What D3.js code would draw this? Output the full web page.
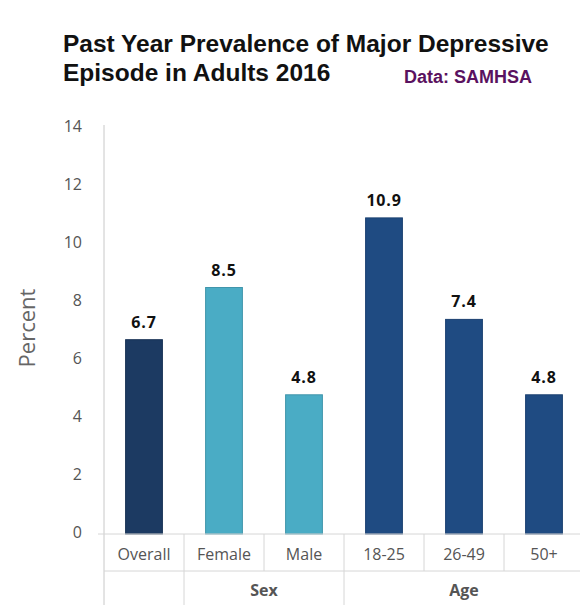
<!DOCTYPE html>
<html>
<head>
<meta charset="utf-8">
<script src="https://cdn.jsdelivr.net/npm/d3@7"></script>
<style>
  body { margin: 0; background: #fff; }
  svg { display: block; }
</style>
</head>
<body>
<script>
// data
var categories = ["Overall", "Female", "Male", "18-25", "26-49", "50+"];
var groupOf    = ["", "Sex", "Sex", "Age", "Age", "Age"];
var values     = [6.7, 8.5, 4.8, 10.9, 7.4, 4.8];
var barColors  = ["#1c3a62", "#4aacc5", "#4aacc5", "#1f4b82", "#1f4b82", "#1f4b82"];
var yTicks     = [0, 2, 4, 6, 8, 10, 12, 14];
var titleLines = ["Past Year Prevalence of Major Depressive", "Episode in Adults 2016"];
var sourceText = "Data: SAMHSA";

var W = 580, H = 605;
var plotLeft = 104, plotRight = 584, plotTop = 128, base = 534;
var row1 = 571;

var svg = d3.select("body").append("svg")
    .attr("width", W)
    .attr("height", H);

// scales
var x = d3.scaleBand().domain(categories).range([plotLeft, plotRight])
    .paddingInner(0.54).paddingOuter(0.27);
var cell = d3.scaleBand().domain(categories).range([plotLeft, plotRight]);
var y = d3.scaleLinear().domain([0, 14]).range([base, plotTop]);

// title
svg.append("g").selectAll("text")
    .data(titleLines)
    .enter().append("text")
        .attr("x", 63)
        .attr("y", function(d, i) { return 52 + i * 29; })
        .style("font-family", "'Liberation Sans', Arial, sans-serif")
        .style("font-weight", "bold")
        .style("font-size", "24.5px")
        .style("fill", "#111")
        .text(function(d) { return d; });

svg.append("text")
    .attr("x", 404)
    .attr("y", 83)
    .style("font-family", "'Liberation Sans', Arial, sans-serif")
    .style("font-weight", "bold")
    .style("font-size", "18px")
    .style("fill", "#5a1260")
    .text(sourceText);

// y axis
var yAxis = d3.axisLeft(y).tickValues(yTicks).tickSize(0).tickPadding(22);
var gy = svg.append("g")
    .attr("transform", "translate(" + plotLeft + ",0)")
    .call(yAxis);
gy.select(".domain").remove();
gy.selectAll("text")
    .attr("dy", "0.2em")
    .style("font-family", "'Open Sans', sans-serif")
    .style("font-size", "16px")
    .style("fill", "#555");

svg.append("line")
    .attr("x1", plotLeft).attr("x2", plotLeft)
    .attr("y1", y(14) - 3).attr("y2", H)
    .style("stroke", "#c8c8c8");

svg.append("text")
    .attr("transform", "translate(35,328) rotate(-90)")
    .style("text-anchor", "middle")
    .style("font-family", "'Open Sans', sans-serif")
    .style("font-size", "22px")
    .style("fill", "#666")
    .text("Percent");

// bars
svg.append("g").selectAll("rect")
    .data(values)
    .enter().append("rect")
        .attr("x", function(d, i) { return x(categories[i]); })
        .attr("y", function(d) { return y(d); })
        .attr("width", x.bandwidth())
        .attr("height", function(d) { return base - y(d); })
        .style("fill", function(d, i) { return barColors[i]; })
        .style("stroke", function(d, i) { return d3.color(barColors[i]).darker(0.4); })
        .style("stroke-width", 1);

svg.append("g").selectAll("text")
    .data(values)
    .enter().append("text")
        .attr("x", function(d, i) { return x(categories[i]) + x.bandwidth() / 2; })
        .attr("y", function(d) { return y(d) - 12; })
        .style("text-anchor", "middle")
        .style("font-family", "'Open Sans', sans-serif")
        .style("font-weight", "bold")
        .style("font-size", "16px")
        .style("letter-spacing", "0.8px")
        .style("fill", "#111")
        .text(function(d) { return d.toFixed(1); });

// category table below the bars
var grid = svg.append("g").style("stroke", "#d6d6d6").style("stroke-width", 1);
grid.append("line").attr("x1", plotLeft).attr("x2", W).attr("y1", base).attr("y2", base);
grid.append("line").attr("x1", plotLeft).attr("x2", W).attr("y1", row1).attr("y2", row1);
grid.append("line").attr("x1", plotLeft - 6).attr("x2", plotLeft).attr("y1", base).attr("y2", base);

grid.selectAll(".cellsep")
    .data(categories.slice(1))
    .enter().append("line")
        .attr("class", "cellsep")
        .attr("x1", function(d) { return cell(d); })
        .attr("x2", function(d) { return cell(d); })
        .attr("y1", base).attr("y2", row1);

svg.append("g").selectAll("text")
    .data(categories)
    .enter().append("text")
        .attr("x", function(d) { return cell(d) + cell.bandwidth() / 2; })
        .attr("y", 560)
        .style("text-anchor", "middle")
        .style("font-family", "'Open Sans', sans-serif")
        .style("font-size", "16px")
        .style("fill", "#555")
        .text(function(d) { return d; });

// group spans
var groups = [];
categories.forEach(function(c, i) {
    var g = groups[groups.length - 1];
    if (g && g.name === groupOf[i]) { g.last = c; }
    else { groups.push({name: groupOf[i], first: c, last: c}); }
});

grid.selectAll(".groupsep")
    .data(groups.slice(1))
    .enter().append("line")
        .attr("class", "groupsep")
        .attr("x1", function(d) { return cell(d.first); })
        .attr("x2", function(d) { return cell(d.first); })
        .attr("y1", row1).attr("y2", H);

svg.append("g").selectAll("text")
    .data(groups)
    .enter().append("text")
        .attr("x", function(d) { return (cell(d.first) + cell(d.last) + cell.bandwidth()) / 2; })
        .attr("y", 596)
        .style("text-anchor", "middle")
        .style("font-family", "'Open Sans', sans-serif")
        .style("font-weight", "bold")
        .style("font-size", "16px")
        .style("fill", "#555")
        .text(function(d) { return d.name; });
</script>
</body>
</html>
